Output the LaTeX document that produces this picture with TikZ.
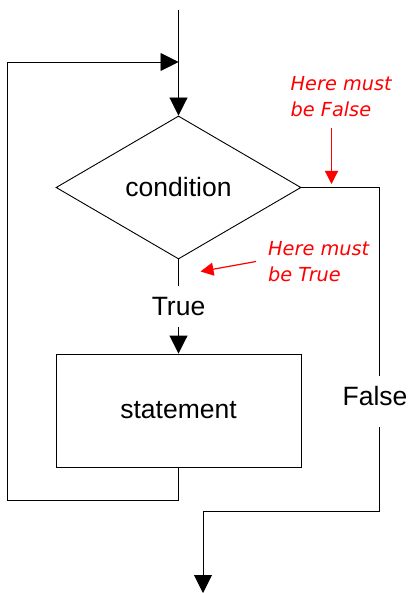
\documentclass[tikz,border=0pt]{standalone}
\usepackage{fontspec}
\setmainfont{Liberation Sans}
\newfontfamily\notefont{DejaVu Sans}
\usetikzlibrary{shapes.geometric,arrows.meta}
\begin{document}
\begin{tikzpicture}[x=1pt,y=-1pt,
  flowline/.style={line width=0.9pt,draw=black},
  flowarrow/.style={flowline,-{Triangle[width=18pt,length=18pt]}},
  notearrow/.style={line width=1.2pt,draw=red,-{Triangle[width=13pt,length=13pt]}},
  bigtext/.style={font=\fontsize{26.5}{30}\selectfont},
  notetext/.style={text=red,align=left,inner sep=0pt,anchor=north west,
    font=\notefont\itshape\fontsize{19.3}{26}\selectfont},
  decision/.style={flowline,diamond,minimum width=245pt,minimum height=143pt,inner sep=0pt,bigtext},
  process/.style={flowline,rectangle,minimum width=245pt,minimum height=113pt,inner sep=0pt,bigtext}]
\useasboundingbox (0,0) rectangle (415,593);

% the two blocks
\node[decision] (cond) at (178.5,187.5) {condition};
\node[process]  (stmt) at (178.5,410.5) {statement};

% branch labels
\node[bigtext,inner sep=0pt,minimum height=41pt] (truelbl) at (178.5,306.5) {True};
\node[bigtext,inner sep=0pt] (falselbl) at (375,396) {False};

% route points
\coordinate (entry) at (178.5,10);
\coordinate (join)  at (178.5,62);
\coordinate (loopcorner) at (7.5,500);
\coordinate (fa) at (379,376);
\coordinate (fb) at (379,427);
\coordinate (exitturn) at (203,511);
\coordinate (exitend)  at (203,593);

% entry and loop back
\draw[flowline] (entry) -- (join);
\draw[flowarrow] (join) -- (cond.north);
\draw[flowarrow] (stmt.south) |- (loopcorner) |- (join);

% true branch
\draw[flowline] (cond.south) -- (truelbl.north);
\draw[flowarrow] (truelbl.south) -- (stmt.north);

% false branch
\draw[flowline] (cond.east) -| (fa);
\draw[flowarrow] (fb) |- (exitturn) -- (exitend);

% notes
\node[notetext] (notefalse) at (290.5,76) {Here must\\be False};
\node[notetext] (notetrue)  at (268,241)  {Here must\\be True};
\coordinate (nf1) at (331.5,128);
\coordinate (nf2) at (331.5,184);
\coordinate (nt1) at (256,261.5);
\coordinate (nt2) at (200.5,271.5);
\draw[notearrow] (nf1) -- (nf2);
\draw[notearrow] (nt1) -- (nt2);
\end{tikzpicture}
\end{document}
